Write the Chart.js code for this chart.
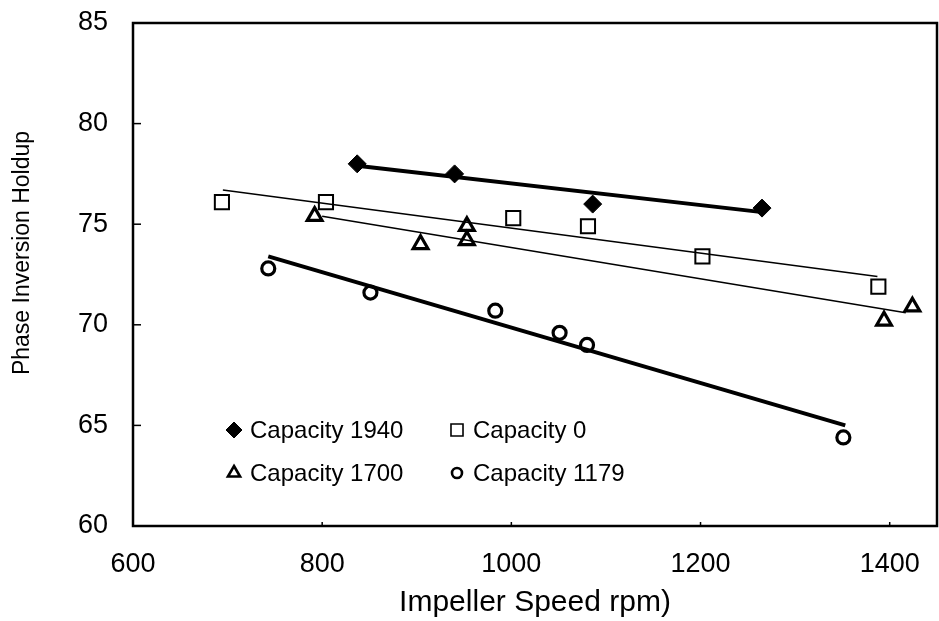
<!DOCTYPE html>
<html>
<head>
<meta charset="utf-8">
<title>Phase Inversion Holdup vs Impeller Speed</title>
<script src="https://cdn.jsdelivr.net/npm/chart.js@4/dist/chart.umd.min.js"></script>
<style>
  html, body { margin: 0; padding: 0; background: #fff; }
  #wrap { width: 939px; height: 621px; }
</style>
</head>
<body>
<div id="wrap"><canvas id="holdupChart" width="939" height="621"></canvas></div>
<script>
// measured points (impeller speed rpm / phase inversion holdup)
const cap1940Rpm = [837, 940, 1086, 1265];
const cap1940Holdup = [78.0, 77.5, 76.0, 75.8];
const cap0Rpm = [694, 804, 1002, 1081, 1202, 1388];
const cap0Holdup = [76.1, 76.1, 75.3, 74.9, 73.4, 71.9];
const cap1700Rpm = [792, 904, 953, 953, 1394, 1424];
const cap1700Holdup = [75.4, 74.0, 74.9, 74.2, 70.2, 70.9];
const cap1179Rpm = [743, 851, 983, 1051, 1080, 1351];
const cap1179Holdup = [72.8, 71.6, 70.7, 69.6, 69.0, 64.4];

// trend line end points
const fit1940Rpm = [837, 1265];
const fit1940Holdup = [77.9, 75.6];
const fit0Rpm = [695, 1387];
const fit0Holdup = [76.7, 72.4];
const fit1700Rpm = [800, 1417];
const fit1700Holdup = [75.4, 70.6];
const fit1179Rpm = [743, 1353];
const fit1179Holdup = [73.4, 65.0];

// axis ticks
const xTickValues = [600, 800, 1000, 1200, 1400];
const yTickValues = [60, 65, 70, 75, 80, 85];

const seriesLabels = ["Capacity 1940", "Capacity 0", "Capacity 1700", "Capacity 1179"];
const yTitle = "Phase Inversion Holdup";

(function () {
  "use strict";

  const FONT = '"Liberation Sans", Arial, Helvetica, sans-serif';
  const NONE = "rgba(0,0,0,0)";

  function toPoints(xs, ys) {
    return xs.map(function (x, i) { return { x: x, y: ys[i] }; });
  }

  // marker look per series (same order as seriesLabels)
  const markers = [
    { pointStyle: "rectRot", radius: 9, fill: "#000", borderWidth: 1 },
    { pointStyle: "rect", radius: 10, fill: NONE, borderWidth: 2 },
    { pointStyle: "triangle", radius: 8.5, fill: NONE, borderWidth: 3.2 },
    { pointStyle: "circle", radius: 6.5, fill: NONE, borderWidth: 3.2 }
  ];

  function markerSet(i, xs, ys) {
    const m = markers[i];
    return {
      label: seriesLabels[i],
      data: toPoints(xs, ys),
      showLine: false,
      pointStyle: m.pointStyle,
      pointRadius: m.radius,
      pointHoverRadius: m.radius,
      pointBackgroundColor: m.fill,
      pointBorderColor: "#000",
      pointBorderWidth: m.borderWidth
    };
  }

  function trendSet(xs, ys, width) {
    return {
      label: "trend",
      data: toPoints(xs, ys),
      showLine: true,
      pointRadius: 0,
      pointHoverRadius: 0,
      borderColor: "#000",
      borderWidth: width,
      fill: false
    };
  }

  // box around plot area + inward tick marks + y title
  const framePlugin = {
    id: "frame",
    afterDraw: function (chart) {
      const ctx = chart.ctx;
      const a = chart.chartArea;
      const xs = chart.scales.x;
      const ys = chart.scales.y;
      ctx.save();
      ctx.strokeStyle = "#000";
      ctx.lineWidth = 1.5;
      yTickValues.forEach(function (v) {
        const py = ys.getPixelForValue(v);
        ctx.beginPath();
        ctx.moveTo(a.left, py);
        ctx.lineTo(a.left + 8, py);
        ctx.stroke();
      });
      xTickValues.forEach(function (v) {
        const px = xs.getPixelForValue(v);
        ctx.beginPath();
        ctx.moveTo(px, a.bottom);
        ctx.lineTo(px, a.bottom - 4);
        ctx.stroke();
      });
      ctx.lineWidth = 2.5;
      ctx.strokeRect(a.left, a.top, a.right - a.left, a.bottom - a.top);

      // y title sits a bit above the plot's middle in the original
      ctx.translate(23, 253);
      ctx.rotate(-Math.PI / 2);
      ctx.font = "23px " + FONT;
      ctx.fillStyle = "#000";
      ctx.textAlign = "center";
      ctx.textBaseline = "middle";
      ctx.fillText(yTitle, 0, 0);
      ctx.restore();
    }
  };

  // two-column legend drawn inside the plot, lower left
  const legendPlugin = {
    id: "insideLegend",
    afterDraw: function (chart) {
      const ctx = chart.ctx;
      const slots = [
        { x: 234, y: 430, r: 8, lw: 1 },
        { x: 457, y: 430, r: 8.5, lw: 1.6 },
        { x: 234, y: 473, r: 7, lw: 2.6 },
        { x: 457, y: 473, r: 5, lw: 2.6 }
      ];
      ctx.save();
      ctx.font = "24px " + FONT;
      ctx.textBaseline = "middle";
      ctx.textAlign = "left";
      seriesLabels.forEach(function (label, i) {
        const m = markers[i];
        const s = slots[i];
        ctx.fillStyle = m.fill;
        ctx.strokeStyle = "#000";
        ctx.lineWidth = s.lw;
        Chart.helpers.drawPoint(ctx, {
          pointStyle: m.pointStyle,
          radius: s.r,
          rotation: 0,
          borderWidth: s.lw
        }, s.x, s.y);
        ctx.fillStyle = "#000";
        ctx.fillText(label, s.x + 16, s.y + 1);
      });
      ctx.restore();
    }
  };

  function plainNumber(v) {
    return String(v);
  }

  function renderChart(el) {
    if (!el) return;

    new Chart(el, {
      type: "scatter",
      data: {
        datasets: [
          markerSet(0, cap1940Rpm, cap1940Holdup),
          markerSet(1, cap0Rpm, cap0Holdup),
          markerSet(2, cap1700Rpm, cap1700Holdup),
          markerSet(3, cap1179Rpm, cap1179Holdup),
          trendSet(fit1940Rpm, fit1940Holdup, 4),
          trendSet(fit0Rpm, fit0Holdup, 1.5),
          trendSet(fit1700Rpm, fit1700Holdup, 1.5),
          trendSet(fit1179Rpm, fit1179Holdup, 4)
        ]
      },
      options: {
        responsive: false,
        animation: false,
        layout: { autoPadding: false, padding: { top: 23, right: 2, left: 0, bottom: 0 } },
        plugins: {
          legend: { display: false },
          tooltip: { enabled: false }
        },
        scales: {
          x: {
            type: "linear",
            min: 600,
            max: 1450,
            afterBuildTicks: function (s) {
              s.ticks = xTickValues.map(function (v) { return { value: v }; });
            },
            afterFit: function (s) {
              s.height = 95;
              s.paddingLeft = 0;
              s.paddingRight = 0;
            },
            grid: { display: false, drawTicks: false },
            border: { display: false },
            ticks: {
              color: "#000",
              padding: 22,
              maxRotation: 0,
              callback: plainNumber,
              font: { family: FONT, size: 27 }
            },
            title: {
              display: true,
              text: "Impeller Speed rpm)",
              color: "#000",
              padding: { top: 0, bottom: 0 },
              font: { family: FONT, size: 30 }
            }
          },
          y: {
            min: 60,
            max: 85,
            afterBuildTicks: function (s) {
              s.ticks = yTickValues.map(function (v) { return { value: v }; });
            },
            afterFit: function (s) {
              s.width = 133;
              s.paddingTop = 0;
              s.paddingBottom = 0;
            },
            grid: { display: false, drawTicks: false },
            border: { display: false },
            ticks: {
              color: "#000",
              padding: 25,
              callback: plainNumber,
              font: { family: FONT, size: 27 }
            },
            title: { display: false }
          }
        }
      },
      plugins: [framePlugin, legendPlugin]
    });
  }

  document.addEventListener("DOMContentLoaded", function () {
    renderChart(document.getElementById("holdupChart"));
  });
})();
</script>
</body>
</html>
